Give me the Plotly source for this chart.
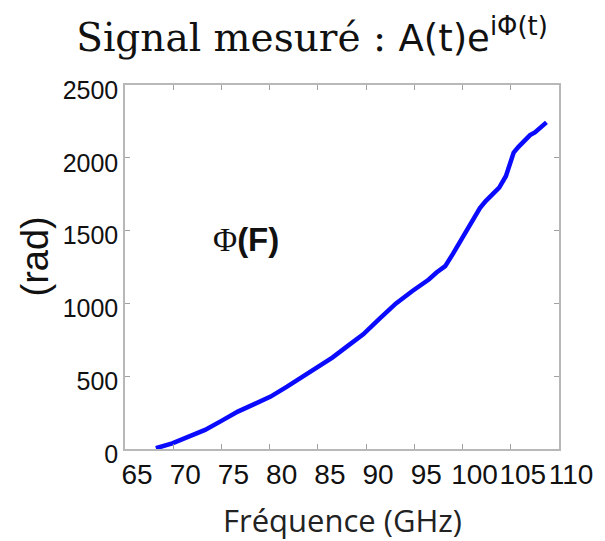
import plotly.graph_objects as go

# Data
freq_ghz = [68.2, 69.9, 71.6, 73.3, 75.0, 76.7, 78.4, 80.1, 81.8, 83.5, 85.0, 86.5,
            88.1, 89.7, 91.4, 93.1, 94.8, 96.5, 97.3, 98.2, 99.0, 99.9, 100.6, 101.2,
            101.8, 102.4, 103.1, 103.8, 104.5, 104.9, 105.3, 105.8, 106.3, 107.0,
            107.5, 108.1, 108.7]
phase_rad = [5, 39, 85, 131, 193, 257, 308, 360, 428, 498, 558, 628,
             708, 788, 895, 1000, 1085, 1164, 1212, 1256, 1340, 1439, 1520, 1595,
             1655, 1703, 1745, 1795, 1875, 1965, 2036, 2075, 2105, 2156,
             2174, 2210, 2243]

x_ticks = [65, 70, 75, 80, 85, 90, 95, 100, 105, 110]
y_ticks = [0, 500, 1000, 1500, 2000, 2500]

fig = go.Figure()
fig.add_trace(go.Scatter(
    x=freq_ghz, y=phase_rad, mode="lines",
    line=dict(color="#0a0aff", width=4.5),
    showlegend=False, hoverinfo="skip"))

axis_common = dict(
    showgrid=False, zeroline=False, showline=True, linecolor="#b8b8b8", linewidth=1.5,
    mirror="ticks", ticks="inside", ticklen=5, tickcolor="#a0a0a0", tickwidth=1,
)

fig.update_xaxes(range=[65, 110], tickvals=x_ticks, ticktext=[str(v) for v in x_ticks],
                 tickangle=0,
                 tickfont=dict(family="Liberation Sans", size=28, color="#111"),
                 ticklabelshift=12, **axis_common)
fig.update_yaxes(range=[0, 2500], tickvals=y_ticks, ticktext=[str(v) for v in y_ticks],
                 tickfont=dict(family="Liberation Sans", size=25, color="#111"),
                 ticklabelshift=5, **axis_common)

fig.update_layout(
    width=605, height=541,
    margin=dict(l=125, r=39, t=85, b=92),
    paper_bgcolor="white", plot_bgcolor="white",
    title=dict(
        text=("<span style='font-family:DejaVu Serif'>Signal mesuré : </span>"
              "<span style='font-family:DejaVu Sans;font-size:37px'>A(t)e"
              "<sup>iΦ(t)</sup></span>"),
        font=dict(family="DejaVu Serif", size=39, color="#111"),
        x=312 / 605, xanchor="center", xref="container",
        y=(541 - 37) / 541, yanchor="middle", yref="container"),
    annotations=[
        dict(text="<span style='font-family:Liberation Serif'>Φ</span><b>(F)</b>",
             x=77.5, y=1439, xref="x", yref="y", showarrow=False,
             xanchor="center", yanchor="middle",
             font=dict(family="Liberation Sans", size=33, color="#111")),
        dict(text="(rad)", textangle=-90,
             x=(34 - 125) / 441, y=0.53, xref="paper", yref="paper",
             showarrow=False, xanchor="center", yanchor="middle",
             font=dict(family="Liberation Sans", size=38, color="#111")),
        dict(text="Fréquence (GHz)",
             x=0.5, y=-(520 - 449) / 364, xref="paper", yref="paper",
             showarrow=False, xanchor="center", yanchor="middle",
             font=dict(family="Open Sans", size=31, color="#222")),
    ],
)

fig.write_html("out.html")
